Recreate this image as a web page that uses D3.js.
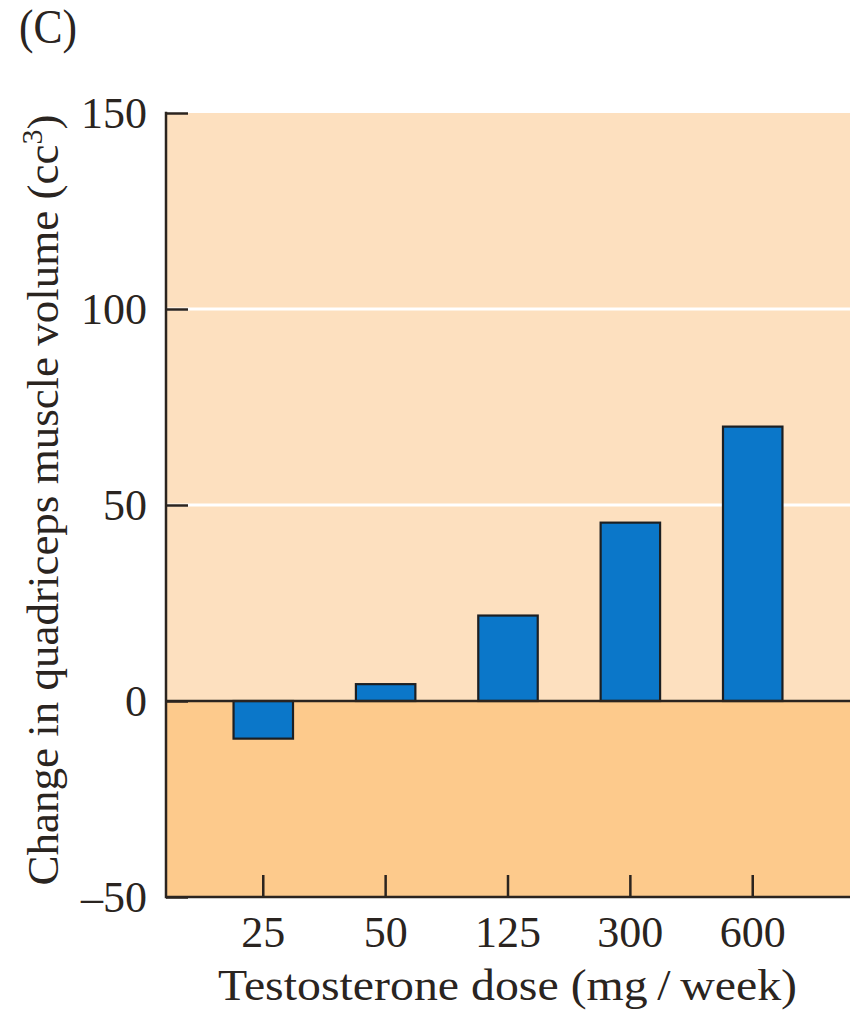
<!DOCTYPE html>
<html>
<head>
<meta charset="utf-8">
<script src="https://cdn.jsdelivr.net/npm/d3@7"></script>
<style>
  html, body { margin: 0; padding: 0; background: #fff; }
  svg { display: block; }
  text { font-family: "Liberation Serif", "DejaVu Serif", serif; fill: #2a2420; }
</style>
</head>
<body>
<svg id="chart" width="859" height="1017"></svg>
<script>
// Dose groups and mean change in quadriceps muscle volume (cc³)
const doses = ["25", "50", "125", "300", "600"];
const volumeChange = [-9.6, 4.3, 21.8, 45.5, 70];
const yTicks = [-50, 0, 50, 100, 150];
const gridValues = [50, 100];

const svg = d3.select("#chart");
const margin = { left: 166, right: 9, top: 113, bottom: 120 };
const W = 859, H = 1017;
const x0 = margin.left, x1 = W - margin.right;
const yTop = margin.top, yBot = H - margin.bottom;

const y = d3.scaleLinear().domain([-50, 150]).range([yBot, yTop]);
const x = d3.scaleBand().domain(doses).range([x0, x1])
  .paddingInner(0.514).paddingOuter(0.552);

const axisColor = "#2b241f";

// Background panels: positive region and negative region
svg.append("rect")
  .attr("x", x0).attr("y", y(150))
  .attr("width", x1 - x0).attr("height", y(0) - y(150))
  .attr("fill", "#fde0bf");
svg.append("rect")
  .attr("x", x0).attr("y", y(0))
  .attr("width", x1 - x0).attr("height", y(-50) - y(0))
  .attr("fill", "#fdca8c");

// White gridlines
svg.selectAll("line.grid").data(gridValues).join("line")
  .attr("class", "grid")
  .attr("x1", x0).attr("x2", x1)
  .attr("y1", d => y(d)).attr("y2", d => y(d))
  .attr("stroke", "#ffffff").attr("stroke-width", 3);

// Bars
svg.selectAll("rect.bar").data(volumeChange).join("rect")
  .attr("class", "bar")
  .attr("x", (d, i) => x(doses[i]))
  .attr("width", x.bandwidth())
  .attr("y", d => y(Math.max(0, d)))
  .attr("height", d => Math.abs(y(d) - y(0)))
  .attr("fill", "#0b77c9")
  .attr("stroke", "#1c1f22")
  .attr("stroke-width", 2.2);

// Zero line
svg.append("line")
  .attr("x1", x0).attr("x2", x1)
  .attr("y1", y(0)).attr("y2", y(0))
  .attr("stroke", axisColor).attr("stroke-width", 2.5);

// Y axis: inward ticks
const yAxis = d3.axisRight(y).tickValues(yTicks).tickSize(22).tickFormat("");
const gy = svg.append("g").attr("transform", `translate(${x0},0)`).call(yAxis);
gy.select(".domain").remove();
gy.selectAll(".tick line").attr("stroke", axisColor).attr("stroke-width", 2.5);
svg.append("line")
  .attr("x1", x0).attr("x2", x0)
  .attr("y1", yTop - 1.25).attr("y2", yBot + 1.25)
  .attr("stroke", axisColor).attr("stroke-width", 2.5);

// Y tick labels
svg.selectAll("text.ylab").data(yTicks).join("text")
  .attr("class", "ylab")
  .attr("x", x0 - 19)
  .attr("y", d => y(d) + 15)
  .attr("text-anchor", "end")
  .attr("font-size", 44)
  .text(d => d < 0 ? "\u2013" + Math.abs(d) : d);

// X axis: ticks pointing up from the bottom line
const xAxis = d3.axisTop(x).tickSize(22).tickFormat("");
const gx = svg.append("g").attr("transform", `translate(0,${yBot})`).call(xAxis);
gx.select(".domain").remove();
gx.selectAll(".tick line").attr("stroke", axisColor).attr("stroke-width", 2.5);
svg.append("line")
  .attr("x1", x0).attr("x2", x1)
  .attr("y1", yBot).attr("y2", yBot)
  .attr("stroke", axisColor).attr("stroke-width", 2.5);

// X tick labels
svg.selectAll("text.xlab").data(doses).join("text")
  .attr("class", "xlab")
  .attr("x", d => x(d) + x.bandwidth() / 2)
  .attr("y", 947)
  .attr("text-anchor", "middle")
  .attr("font-size", 44)
  .text(d => d);

// X axis title
svg.append("text")
  .attr("x", (218 + 797) / 2)
  .attr("y", 1000)
  .attr("text-anchor", "middle")
  .attr("font-size", 45)
  .attr("textLength", 579)
  .attr("lengthAdjust", "spacingAndGlyphs")
  .text("Testosterone dose (mg\u2009/\u2009week)");

// Y axis title (rotated)
const yt = svg.append("text")
  .attr("transform", "translate(58,500) rotate(-90)")
  .attr("text-anchor", "middle")
  .attr("font-size", 45);
yt.append("tspan").text("Change in quadriceps muscle volume (cc");
yt.append("tspan").attr("dy", -16).attr("font-size", 30).text("3");
yt.append("tspan").attr("dy", 16).text(")");

// Panel letter
svg.append("text")
  .attr("x", 19).attr("y", 43)
  .attr("font-size", 48)
  .attr("textLength", 58)
  .attr("lengthAdjust", "spacingAndGlyphs")
  .text("(C)");
</script>
</body>
</html>
